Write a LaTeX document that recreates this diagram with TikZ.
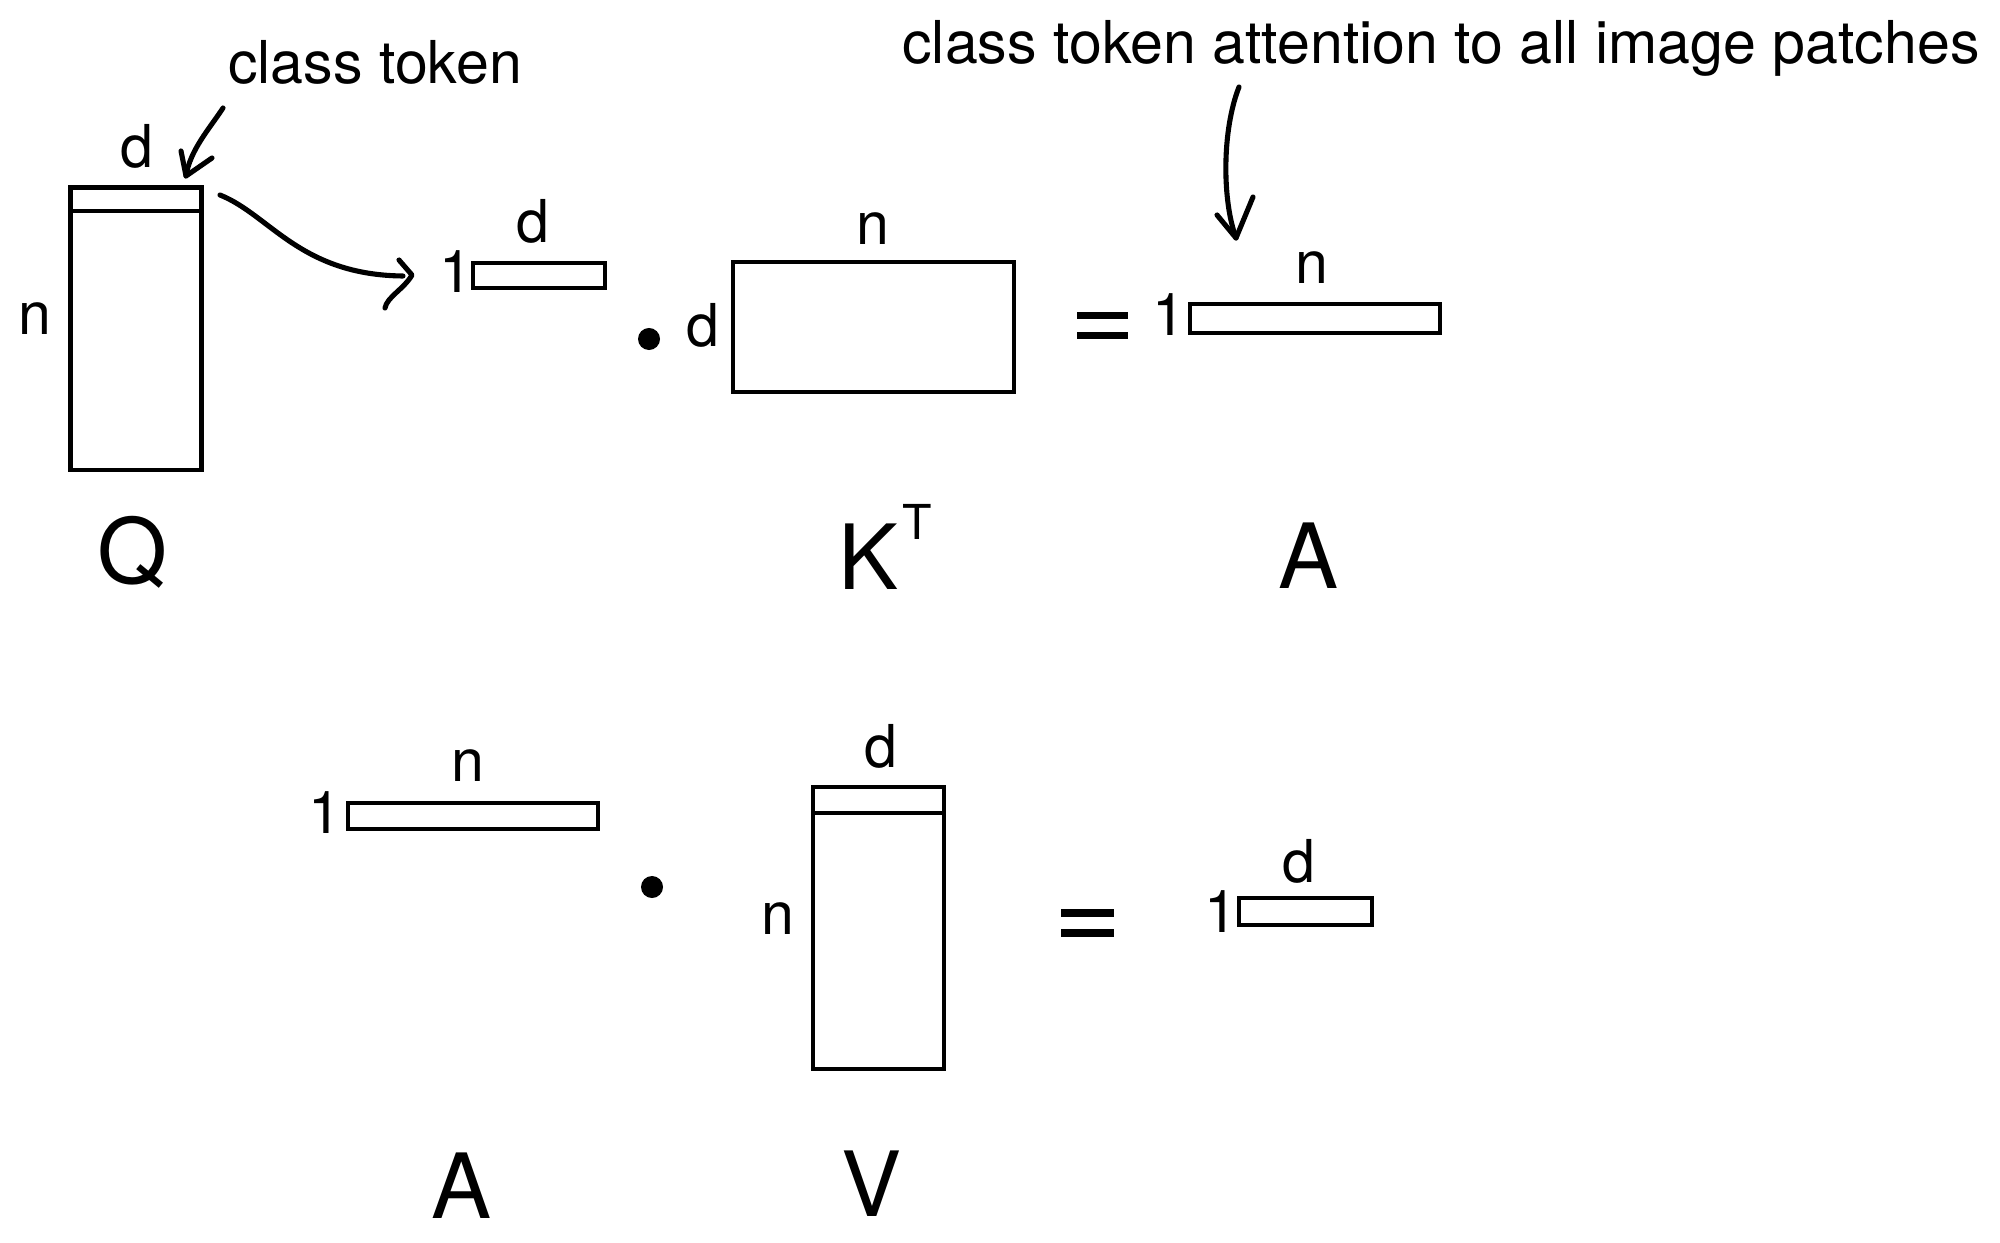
\documentclass[tikz,border=0pt]{standalone}
\usepackage{fontspec}
\setmainfont{TeX Gyre Heros}
\usetikzlibrary{calc}
\begin{document}
\begin{tikzpicture}[x=0.01cm,y=-0.01cm,
  lbl/.style={inner sep=0,anchor=base,font=\fontsize{16.8}{20}\selectfont},
  big/.style={inner sep=0,anchor=base,font=\fontsize{25.6}{30}\selectfont},
  suplbl/.style={inner sep=0,anchor=base,font=\fontsize{13.7}{16}\selectfont},
  mat/.style={draw,line width=1.25pt,inner sep=0,outer sep=0,anchor=north west},
  rowline/.style={line width=1.25pt},
  dotn/.style={circle,fill,inner sep=0,minimum size=0.22cm},
  conn/.style={line width=1.45pt,line cap=round,line join=round},
]
\useasboundingbox (0,0) rectangle (2000,1243);

% ---------- top row ----------
\node[lbl] (ct) at (375,84) {class token};
\node[lbl] (ctall) at (1441,64) {class token attention to all image patches};

% Q
\node[mat,minimum width=1.31cm,minimum height=2.825cm] (Q) at (70.5,187.5) {};
\draw[rowline] ($(Q.north west)+(0,23.5)$) -- ($(Q.north east)+(0,23.5)$);
\node[lbl] (Qd) at (137,168) {d};
\node[lbl] (Qn) at (35,335) {n};
\node[big] (Qlab) at (133,583) {Q};

% class token arrow
\coordinate (ctS) at (223,108);
\coordinate (ctT) at (186,176);
\draw[conn] (ctS) .. controls (210,128) and (190,150) .. (ctT);
\draw[conn] ($(ctT)+(-5,-25)$) -- (ctT) -- ($(ctT)+(26,-18)$);

% arrow from Q's first row to the 1 x d row
\coordinate (qS) at (220,195);
\coordinate (qT) at (412,275);
\draw[conn] (qS) .. controls (270,215) and (300,275) .. ($(qT)+(-9,1)$);
\draw[conn] ($(qT)+(-13,-15)$) -- (qT) .. controls ($(qT)+(-8,14)$) and ($(qT)+(-25,22)$) .. ($(qT)+(-27,33)$);

% 1 x d row
\node[mat,minimum width=1.32cm,minimum height=0.25cm] (q1) at (473,263) {};
\node[lbl] (q1one) at (456,293) {1};
\node[lbl] (q1d) at (533,243) {d};

% dot
\node[dotn] (dot1) at (649,339) {};

% K^T
\node[mat,minimum width=2.81cm,minimum height=1.30cm] (K) at (733,262) {};
\node[lbl] (Kd) at (703,347) {d};
\node[lbl] (Kn) at (873,245) {n};
\node[big] (Klab) at (869,590) {K};
\node[suplbl] (KT) at (917,540) {T};

% =
\fill (1077,312) rectangle (1128,319);
\fill (1077,332) rectangle (1128,339);

% A (1 x n)
\node[mat,minimum width=2.50cm,minimum height=0.29cm] (A1) at (1190,304) {};
\node[lbl] (A1one) at (1169,336) {1};
\node[lbl] (A1n) at (1312,284) {n};
\node[big] (A1lab) at (1309,588) {A};

% attention arrow
\coordinate (aS) at (1239,87);
\coordinate (aT) at (1236,238);
\draw[conn] (aS) .. controls (1222,130) and (1222,200) .. (aT);
\draw[conn] ($(aT)+(-19,-23)$) -- (aT) -- ($(aT)+(17,-41)$);

% ---------- bottom row ----------
\node[mat,minimum width=2.50cm,minimum height=0.26cm] (A2) at (348,803) {};
\node[lbl] (A2one) at (325,833) {1};
\node[lbl] (A2n) at (468,781) {n};
\node[big] (A2lab) at (462,1218) {A};

\node[dotn] (dot2) at (652,887) {};

\node[mat,minimum width=1.31cm,minimum height=2.82cm] (V) at (813,787) {};
\draw[rowline] ($(V.north west)+(0,26)$) -- ($(V.north east)+(0,26)$);
\node[lbl] (Vd) at (881,767) {d};
\node[lbl] (Vn) at (778,934) {n};
\node[big] (Vlab) at (872,1216) {V};

\fill (1061,909) rectangle (1114,917);
\fill (1061,929) rectangle (1114,937);

\node[mat,minimum width=1.33cm,minimum height=0.27cm] (O) at (1239,898) {};
\node[lbl] (Oone) at (1221,932) {1};
\node[lbl] (Od) at (1299,882) {d};
\end{tikzpicture}
\end{document}
